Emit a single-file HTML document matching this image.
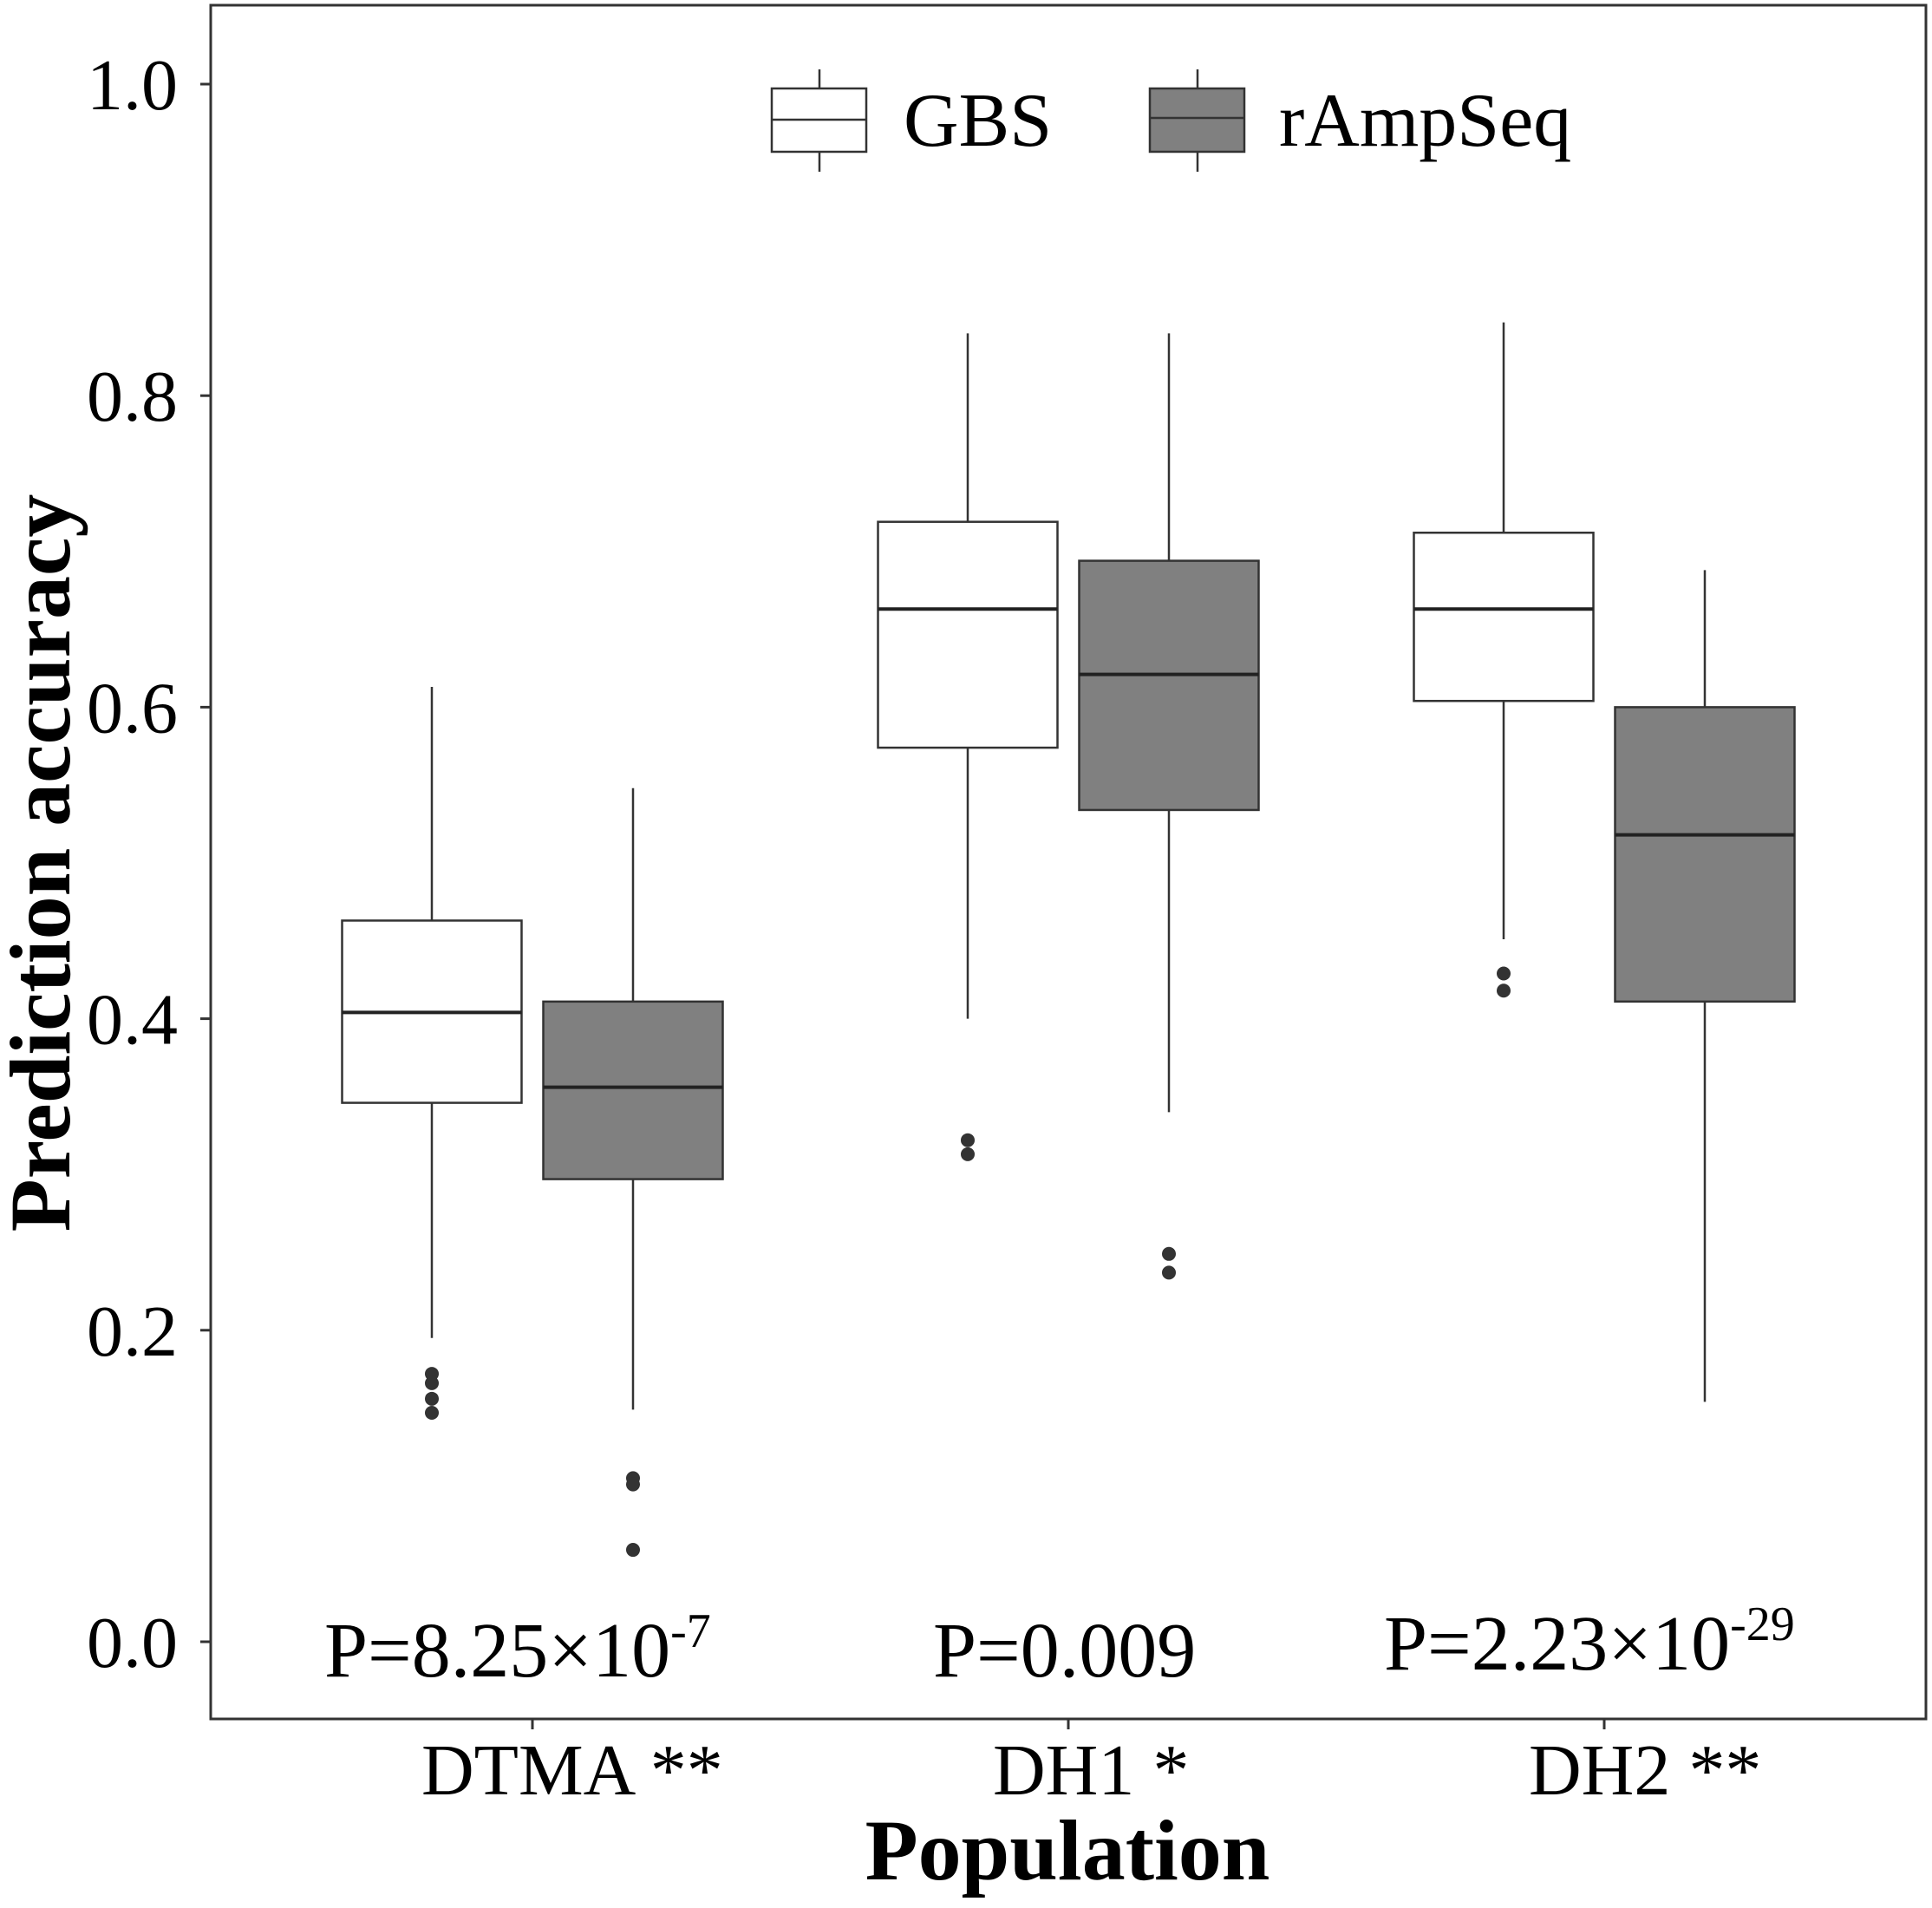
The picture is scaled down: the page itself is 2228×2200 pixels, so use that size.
<!DOCTYPE html>
<html><head><meta charset="utf-8"><style>
html,body{margin:0;padding:0;background:#fff}
svg{display:block}
text{font-family:"Liberation Serif",serif;fill:#000}
</style></head><body>
<svg id="chart" width="2228" height="2200" viewBox="0 0 2228 2200" xmlns="http://www.w3.org/2000/svg">
<rect x="243" y="6" width="1978" height="1976" fill="#fff" stroke="#333" stroke-width="3"/>
<g id="axes"></g>
<g id="boxes"></g>
<g>
  <line x1="945" y1="80" x2="945" y2="198" stroke="#333" stroke-width="2.5"/>
  <rect x="890" y="102" width="109" height="73" fill="#fff" stroke="#333" stroke-width="2.5"/>
  <line x1="890" y1="138" x2="999" y2="138" stroke="#333" stroke-width="2.5"/>
  <text x="1042" y="168" font-size="88">GBS</text>
  <line x1="1381" y1="80" x2="1381" y2="198" stroke="#333" stroke-width="2.5"/>
  <rect x="1326" y="102" width="109" height="73" fill="#808080" stroke="#333" stroke-width="2.5"/>
  <line x1="1326" y1="136" x2="1435" y2="136" stroke="#333" stroke-width="2.5"/>
  <text x="1475" y="168" font-size="88">rAmpSeq</text>
</g>
<text x="374" y="1933" font-size="90">P=8.25×10<tspan dy="-34" font-size="56">-7</tspan></text>
<text x="1076" y="1933" font-size="90">P=0.009</text>
<text x="1596" y="1925" font-size="90">P=2.23×10<tspan dy="-34" font-size="56">-29</tspan></text>
<text x="1231" y="2167" font-size="100" font-weight="bold" text-anchor="middle">Population</text>
<text transform="translate(80,995) rotate(-90)" font-size="100" font-weight="bold" text-anchor="middle">Prediction accuracy</text>
</svg>
<script>
const categories = ["DTMA **","DH1 *","DH2 **"];
const labelStarts = [486,1145,1763];
const yTicks = [0,0.2,0.4,0.6,0.8,1.0];
const yTickLabels = ["0.0","0.2","0.4","0.6","0.8","1.0"];
const series = ["GBS","rAmpSeq"];
const fills = ["#ffffff","#808080"];
const gbsWhiskerLow = [0.195,0.400,0.451];
const gbsQ1 = [0.346,0.574,0.604];
const gbsMedian = [0.404,0.663,0.663];
const gbsQ3 = [0.463,0.719,0.712];
const gbsWhiskerHigh = [0.613,0.840,0.847];
const gbsOutliers = [[0.172,0.166,0.156,0.147],[0.322,0.313],[0.429,0.418]];
const rampWhiskerLow = [0.149,0.340,0.154];
const rampQ1 = [0.297,0.534,0.411];
const rampMedian = [0.356,0.621,0.518];
const rampQ3 = [0.411,0.694,0.600];
const rampWhiskerHigh = [0.548,0.840,0.688];
const rampOutliers = [[0.105,0.101,0.059],[0.249,0.237],[]];

const NS="http://www.w3.org/2000/svg";
const y0=1893, y1=97;
function yScale(v){return y0+(y1-y0)*v;}
function xScale(i){return 614+i*618;}
const dodge=116, bw=207;
function mk(tag,attrs,parent){const e=document.createElementNS(NS,tag);for(const k in attrs)e.setAttribute(k,attrs[k]);parent.appendChild(e);return e;}
const axes=document.getElementById('axes'), boxes=document.getElementById('boxes');
yTicks.forEach((t,i)=>{
  const y=yScale(t);
  const tk=mk('line',{x1:231,x2:243,y1:y,y2:y,stroke:'#333','stroke-width':3},axes);
  
  
  const tx=mk('text',{x:205,y:y+29,'font-size':84,'text-anchor':'end'},axes);
  tx.textContent=yTickLabels[i];
  
  
});
categories.forEach((c,i)=>{
  const x=xScale(i);
  const tk=mk('line',{x1:x,x2:x,y1:1982,y2:1994,stroke:'#333','stroke-width':3},axes);
  
  
  const tx=mk('text',{x:labelStarts[i],y:2069,'font-size':84},axes);
  tx.textContent=c;
  
  
});
const data=[
  [gbsWhiskerLow,gbsQ1,gbsMedian,gbsQ3,gbsWhiskerHigh,gbsOutliers],
  [rampWhiskerLow,rampQ1,rampMedian,rampQ3,rampWhiskerHigh,rampOutliers]];
data.forEach((d,s)=>{
  categories.forEach((c,i)=>{
    const cx=xScale(i)+(s===0?-dodge:dodge);
    const g=mk('g',{},boxes);
    
    
    mk('line',{x1:cx,x2:cx,y1:yScale(d[4][i]),y2:yScale(d[3][i]),stroke:'#333','stroke-width':2.5},g);
    mk('line',{x1:cx,x2:cx,y1:yScale(d[1][i]),y2:yScale(d[0][i]),stroke:'#333','stroke-width':2.5},g);
    mk('rect',{x:cx-bw/2,y:yScale(d[3][i]),width:bw,height:yScale(d[1][i])-yScale(d[3][i]),fill:fills[s],stroke:'#333','stroke-width':2.5},g);
    mk('line',{x1:cx-bw/2,x2:cx+bw/2,y1:yScale(d[2][i]),y2:yScale(d[2][i]),stroke:'#222','stroke-width':4},g);
    d[5][i].forEach(v=>{
      const p=mk('circle',{cx:cx,cy:yScale(v),r:8,fill:'#333'},g);
      
      
    });
  });
});
</script>
</body></html>
